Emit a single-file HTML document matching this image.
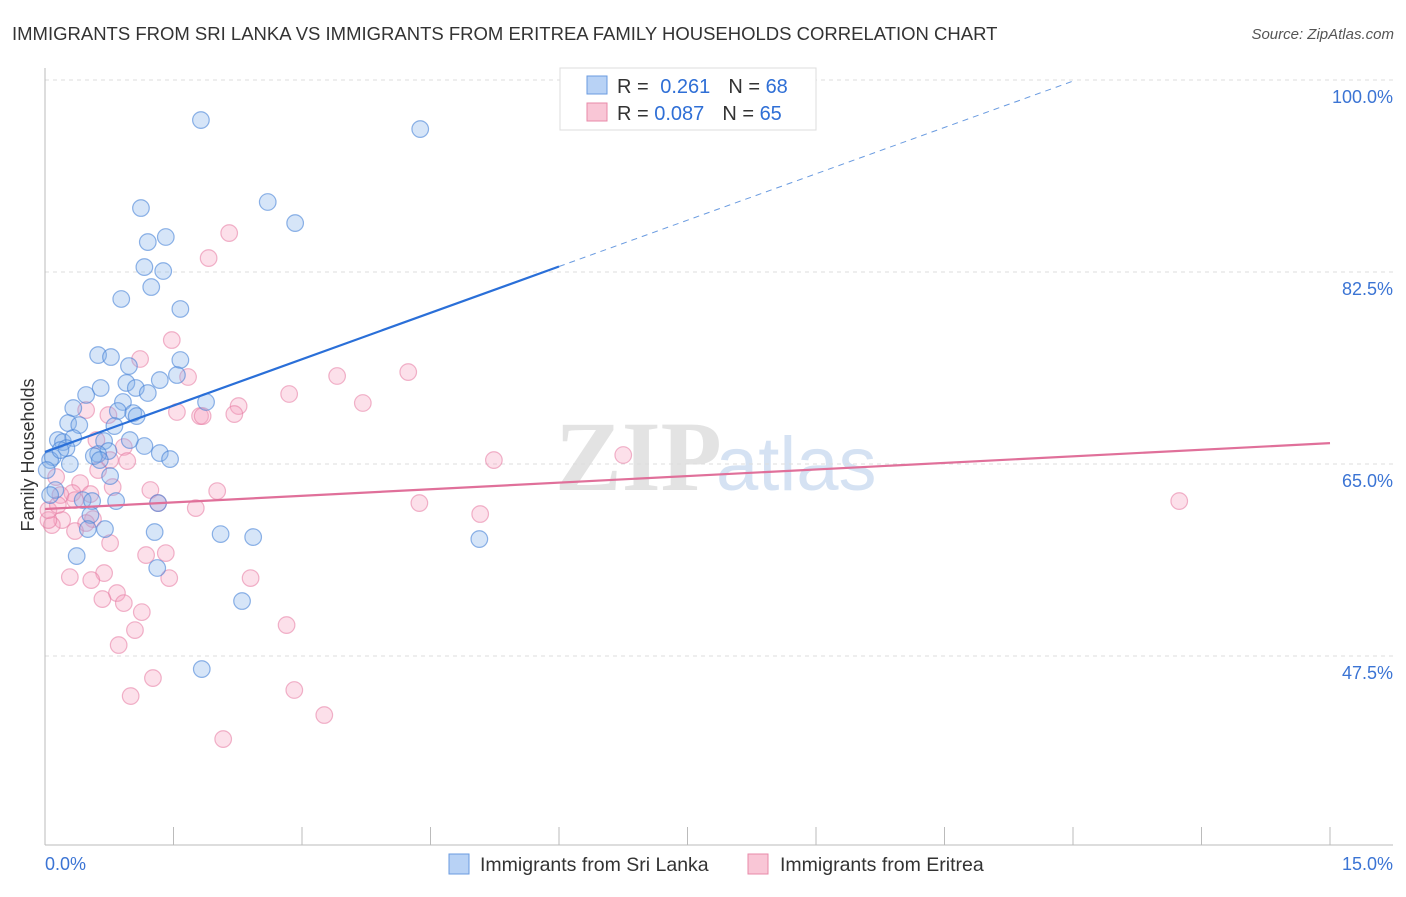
<!DOCTYPE html>
<html><head><meta charset="utf-8"><style>
body{margin:0;background:#fff;font-family:"Liberation Sans",sans-serif}
#c{position:relative;width:1406px;height:892px}
</style></head><body>
<div id="c">
<svg id="s" width="1406" height="892">
<text x="12" y="40" font-size="18.5" fill="#333">IMMIGRANTS FROM SRI LANKA VS IMMIGRANTS FROM ERITREA FAMILY HOUSEHOLDS CORRELATION CHART</text>
<text x="1394" y="39" font-size="15" fill="#555" text-anchor="end" font-style="italic">Source: ZipAtlas.com</text>
<text x="555" y="490" font-size="100" fill="#e3e3e3" font-family="Liberation Serif" font-weight="bold">ZIP</text>
<text x="716" y="490" font-size="76" fill="#d5e2f3">atlas</text>
<text x="34" y="455" font-size="18" fill="#333" text-anchor="middle" transform="rotate(-90 34 455)">Family Households</text>
<g id="grid"></g><g id="pts"></g><g id="lines"></g>
<g>
<rect x="560" y="68" width="256" height="62" fill="#fff" stroke="#ddd"/>
<rect x="587" y="76" width="20" height="18" fill="#b8d2f5" stroke="#6a9be0"/>
<rect x="587" y="103" width="20" height="18" fill="#f9c6d6" stroke="#e88aa8"/>
<text x="617" y="93" font-size="20" fill="#333">R = <tspan fill="#2f6fd6" dx="6">0.261</tspan><tspan dx="18">N = </tspan><tspan fill="#2f6fd6">68</tspan></text>
<text x="617" y="120" font-size="20" fill="#333">R = <tspan fill="#2f6fd6">0.087</tspan><tspan dx="18">N = </tspan><tspan fill="#2f6fd6">65</tspan></text>
</g>
<g>
<rect x="449" y="854" width="20" height="20" fill="#b8d2f5" stroke="#6a9be0"/>
<text x="480" y="871" font-size="19.5" fill="#333">Immigrants from Sri Lanka</text>
<rect x="748" y="854" width="20" height="20" fill="#f9c6d6" stroke="#e88aa8"/>
<text x="780" y="871" font-size="19.5" fill="#333">Immigrants from Eritrea</text>
</g>
</svg></div>
<script>
const yTicks=[100,82.5,65,47.5];
const yTickLabels=["100.0%","82.5%","65.0%","47.5%"];
const xTickCount=10;
const blueX=[1.82,4.38,1.12,2.60,2.92,1.41,1.20,1.16,1.38,1.24,0.89,1.58,0.62,0.77,1.58,0.98,1.54,0.95,0.65,1.06,0.48,1.20,1.88,0.33,0.91,0.85,1.03,1.07,0.27,0.40,0.81,0.15,0.21,0.33,0.69,1.16,0.25,0.74,0.62,0.57,1.34,1.46,0.09,0.29,0.76,0.12,0.44,0.55,0.83,1.32,0.53,0.50,0.70,1.28,2.05,2.43,5.07,0.37,1.31,2.30,1.83,0.06,0.06,0.18,0.02,0.99,1.34,0.64];
const blueY=[96.35,95.53,88.33,88.88,86.96,85.69,85.23,82.95,82.59,81.13,80.04,79.13,74.93,74.75,74.48,73.93,73.11,72.39,71.93,71.93,71.29,71.47,70.65,70.1,70.65,69.83,69.64,69.37,68.73,68.55,68.46,67.18,67.0,67.37,67.09,66.64,66.45,66.18,65.91,65.72,66.0,65.45,65.63,65.0,63.9,62.63,61.71,61.62,61.62,61.44,60.35,59.07,59.07,58.8,58.61,58.34,58.16,56.61,55.52,52.51,46.31,65.36,62.17,66.27,64.45,67.18,72.65,65.36];
const pinkX=[2.15,1.91,1.48,1.11,1.67,3.41,4.24,2.85,3.71,2.26,1.54,0.74,0.48,1.81,2.21,1.84,0.92,0.96,5.24,6.75,0.62,0.13,0.41,1.23,2.01,0.79,0.32,0.53,1.32,4.37,1.76,5.08,13.24,0.56,0.48,0.20,0.35,0.76,1.18,1.41,0.69,0.29,0.54,1.45,2.40,0.84,0.67,0.92,1.13,2.82,1.05,0.86,1.26,1.00,2.91,3.26,2.08,0.08,0.04,0.18,0.76,0.35,0.04,0.15,0.60];
const pinkY=[86.05,83.77,76.3,74.57,72.93,73.02,73.38,71.38,70.56,70.28,69.74,69.46,69.92,69.37,69.55,69.37,66.55,65.27,65.36,65.82,64.45,63.81,63.26,62.63,62.53,62.9,62.35,62.26,61.44,61.44,60.98,60.44,61.62,59.98,59.62,59.89,58.89,57.79,56.7,56.88,55.06,54.69,54.42,54.6,54.6,53.24,52.69,52.32,51.5,50.32,49.86,48.5,45.49,43.85,44.4,42.12,39.93,59.43,59.89,62.17,65.36,61.71,60.8,61.26,67.18];
const blueTrend=[66.1,83.0];   // y at x=0 and x=6
const pinkTrend=[60.9,66.9];   // y at x=0 and x=15
const X=v=>45+v*(1285/15), Y=v=>80+(100-v)*(192/17.5);
const NS="http://www.w3.org/2000/svg";
function mk(t,a,p){const e=document.createElementNS(NS,t);for(const k in a)e.setAttribute(k,a[k]);p.appendChild(e);return e;}
const grid=document.getElementById('grid'),pts=document.getElementById('pts'),lines=document.getElementById('lines');
yTicks.forEach((t,i)=>{
 const l=mk('line',{x1:45,x2:1393,y1:Y(t),y2:Y(t),stroke:'#ddd','stroke-dasharray':'4 4'},grid);
 
 
 const tx=mk('text',{x:1393,y:Y(t)+23,'font-size':18,fill:'#3b74d4','text-anchor':'end'},grid);
 tx.textContent=yTickLabels[i];
 
 
});
const ax=mk('line',{x1:45,x2:45,y1:68,y2:845,stroke:'#bbb'},grid);


const bx=mk('line',{x1:45,x2:1393,y1:845,y2:845,stroke:'#bbb'},grid);


for(let i=0;i<=xTickCount;i++){
 const tk=mk('line',{x1:X(i*1.5),x2:X(i*1.5),y1:827,y2:845,stroke:'#bbb'},grid);
 
 
}
const x0=mk('text',{x:45,y:870,'font-size':18,fill:'#3b74d4'},grid);x0.textContent='0.0%';


const x1=mk('text',{x:1393,y:870,'font-size':18,fill:'#3b74d4','text-anchor':'end'},grid);x1.textContent='15.0%';


pinkX.forEach((v,i)=>{
 const c=mk('circle',{cx:X(v),cy:Y(pinkY[i]),r:8.3,fill:'rgba(245,160,190,0.33)',stroke:'rgba(230,120,160,0.55)','stroke-width':1.2},pts);
 
 
});
blueX.forEach((v,i)=>{
 const c=mk('circle',{cx:X(v),cy:Y(blueY[i]),r:8.3,fill:'rgba(130,175,235,0.33)',stroke:'rgba(70,130,215,0.6)','stroke-width':1.2},pts);
 
 
});
const slope=(blueTrend[1]-blueTrend[0])/6;
const bl=mk('line',{x1:X(0),y1:Y(blueTrend[0]),x2:X(6),y2:Y(blueTrend[1]),stroke:'#2a6fd8','stroke-width':2.2},lines);


const xe=(100-blueTrend[0])/slope;
const bd=mk('line',{x1:X(6),y1:Y(blueTrend[1]),x2:X(xe),y2:Y(100),stroke:'#6a9be0','stroke-width':1,'stroke-dasharray':'6 5'},lines);


const pl=mk('line',{x1:X(0),y1:Y(pinkTrend[0]),x2:X(15),y2:Y(pinkTrend[1]),stroke:'#e0709a','stroke-width':2.2},lines);


</script>
</body></html>
